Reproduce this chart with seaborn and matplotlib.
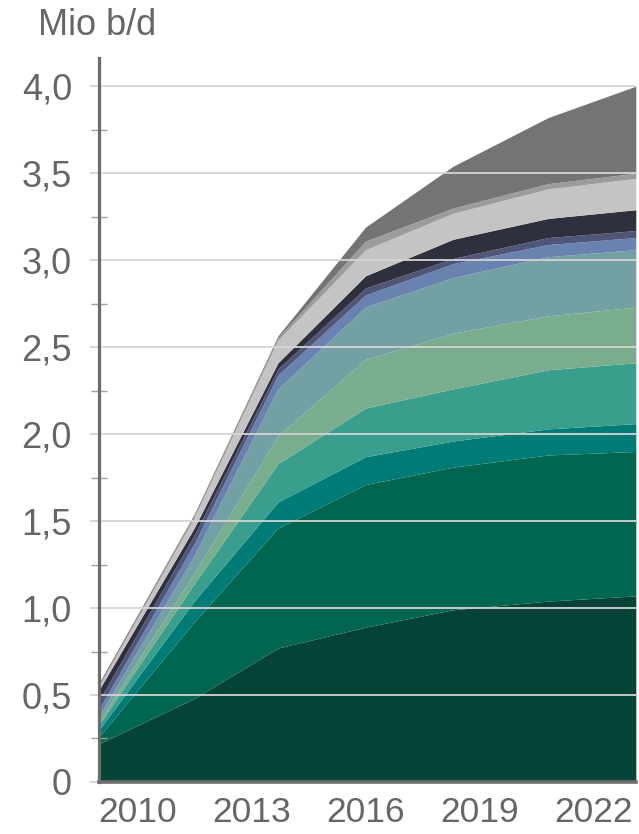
import matplotlib
matplotlib.use("Agg")
import matplotlib.pyplot as plt
import seaborn as sns
import numpy as np
from matplotlib.ticker import MultipleLocator, FuncFormatter

# Time axis (years, fractional where the series changes slope)
years = [2009.0, 2011.5, 2013.7, 2016.0, 2018.3, 2020.8, 2023.1]

# Production by source, million barrels per day (stacked from the bottom)
s01 = [0.22, 0.48, 0.77, 0.89, 0.99, 1.04, 1.07]
s02 = [0.04, 0.44, 0.69, 0.82, 0.82, 0.84, 0.83]
s03 = [0.04, 0.12, 0.15, 0.16, 0.15, 0.15, 0.16]
s04 = [0.03, 0.10, 0.22, 0.28, 0.30, 0.34, 0.35]
s05 = [0.02, 0.06, 0.16, 0.28, 0.32, 0.31, 0.32]
s06 = [0.03, 0.10, 0.27, 0.30, 0.32, 0.34, 0.33]
s07 = [0.04, 0.07, 0.08, 0.07, 0.08, 0.07, 0.07]
s08 = [0.05, 0.05, 0.035, 0.04, 0.03, 0.04, 0.04]
s09 = [0.06, 0.04, 0.035, 0.07, 0.11, 0.11, 0.12]
s10 = [0.02, 0.06, 0.13, 0.15, 0.15, 0.17, 0.18]
s11 = [0.01, 0.01, 0.015, 0.05, 0.03, 0.03, 0.03]
s12 = [0.01, 0.01, 0.01, 0.08, 0.24, 0.38, 0.50]
series = [s01, s02, s03, s04, s05, s06, s07, s08, s09, s10, s11, s12]

colors = ["#064337", "#006650", "#007b76", "#3a9e8d", "#79ad8d", "#73a0a2",
          "#6a82b0", "#4f5677", "#2e303e", "#c4c4c4", "#9c9c9c", "#747474"]

xtick_years = [2010, 2013, 2016, 2019, 2022]
unit_label = "Mio b/d"

sns.set_theme(style="white")
plt.rcParams["font.family"] = ["Liberation Sans", "DejaVu Sans"]

fig = plt.figure(figsize=(6.39, 8.34), dpi=100)
ax = fig.add_axes([0.155, 0.0624, 0.840, 0.8676])

ax.stackplot(years, np.array(series), colors=colors, linewidth=0, zorder=1)

ax.set_xlim(years[0], years[-1])
ax.set_ylim(0, 4.16)

# grid over the areas
ax.set_axisbelow(False)
ax.yaxis.set_major_locator(MultipleLocator(0.5))
ax.yaxis.set_minor_locator(MultipleLocator(0.25))
ax.yaxis.grid(True, which="major", color="#d4d4d4", linewidth=1.3, zorder=2)
ax.xaxis.grid(False)

def fmt(v, pos):
    if abs(v) < 1e-9:
        return "0"
    return f"{v:.1f}".replace(".", ",")

ax.yaxis.set_major_formatter(FuncFormatter(fmt))
ax.set_xticks(xtick_years)
ax.set_xticklabels([str(y) for y in xtick_years])

gray_txt = "#666666"
ax.tick_params(axis="y", which="major", direction="out", length=6.5, width=1.2,
               color="#cfcfcf", labelsize=26, labelcolor=gray_txt, pad=13, left=True)
ax.tick_params(axis="y", which="minor", direction="inout", length=12, width=1.0,
               color="#a0a0a0", left=True)
ax.tick_params(axis="x", which="both", length=0, labelsize=25.5, labelcolor=gray_txt, pad=10)

for side in ["top", "right"]:
    ax.spines[side].set_visible(False)
ax.spines["left"].set_color("#6b6b6b")
ax.spines["left"].set_linewidth(2.3)
ax.spines["bottom"].set_color("#6e6e6e")
ax.spines["bottom"].set_linewidth(2.6)
ax.spines["left"].set_zorder(3)
ax.spines["bottom"].set_zorder(3)

# the zero tick continues the baseline to the left
zero_tick = ax.yaxis.get_major_ticks()[0]
zero_tick.tick1line.set_color("#6e6e6e")
zero_tick.tick1line.set_markeredgewidth(2.6)

fig.text(0.059, 0.970, unit_label, fontsize=26, color=gray_txt, ha="left", va="center")

fig.savefig("out.png", dpi=100, facecolor="white")
